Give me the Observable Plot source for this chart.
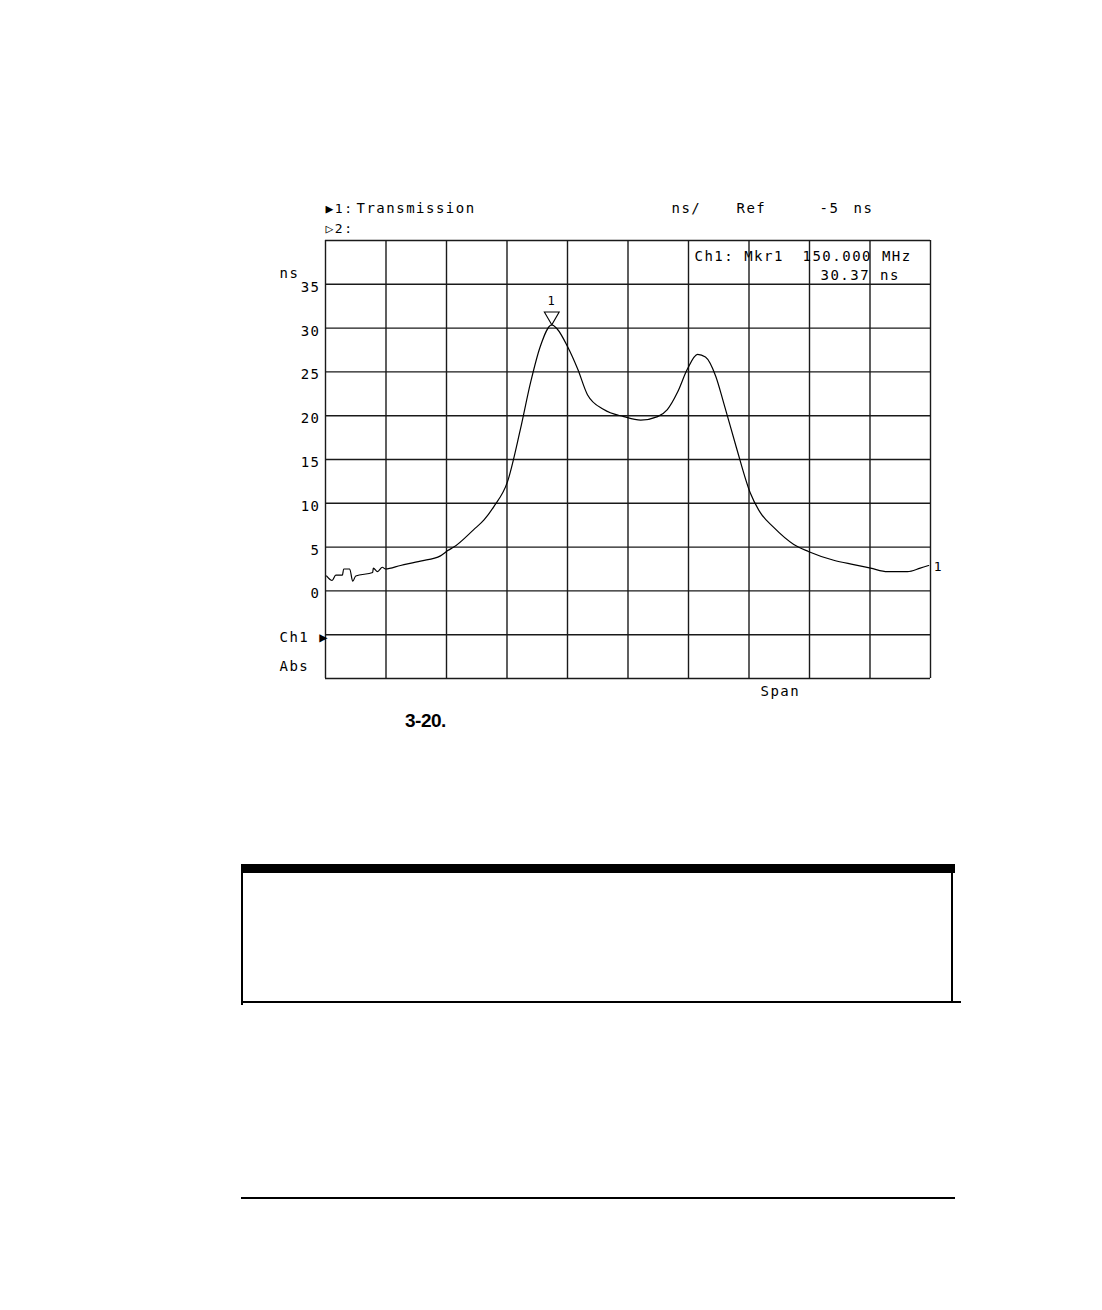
<!DOCTYPE html>
<html>
<head>
<meta charset="utf-8">
<script src="https://cdn.jsdelivr.net/npm/d3@7"></script>
<script src="https://cdn.jsdelivr.net/npm/@observablehq/plot@0.6"></script>
<style>
  html, body { margin: 0; padding: 0; background: #fff; }
  #page { position: relative; width: 1102px; height: 1310px; background: #fff; overflow: hidden; }
  #chart { position: absolute; left: 0; top: 0; }
  #caption { position: absolute; left: 405px; top: 710px; font-family: "Liberation Sans Narrow", "Liberation Sans", sans-serif; font-weight: bold; font-size: 19px; color: #000; letter-spacing: -0.5px; }
  .blk { position: absolute; background: #000; }
</style>
</head>
<body>
<div id="page">
  <div id="chart"></div>
  <div id="caption"></div>
  <div class="blk" style="left:241px; top:864px; width:714px; height:9px;"></div>
  <div class="blk" style="left:241px; top:864px; width:2px; height:141px;"></div>
  <div class="blk" style="left:951px; top:870px; width:2px; height:131px;"></div>
  <div class="blk" style="left:241px; top:1001px; width:720px; height:2px;"></div>
  <div class="blk" style="left:241px; top:1197px; width:714px; height:2px;"></div>
</div>
<script>
// ---- data (x in graticule divisions across the span, y in ns) ----
const traceX = [0.02, 0.11, 0.17, 0.28, 0.30, 0.40, 0.45, 0.50, 0.78, 0.79, 0.86, 0.94, 0.99, 1.24, 1.57, 1.90, 2.02, 2.12, 2.45, 2.62, 2.78, 3.01, 3.22, 3.39, 3.55, 3.74, 3.83, 4.00, 4.17, 4.33, 4.60, 4.93, 5.21, 5.49, 5.65, 5.82, 5.98, 6.15, 6.28, 6.45, 6.58, 6.79, 7.02, 7.19, 7.40, 7.74, 7.98, 8.40, 8.73, 9.01, 9.29, 9.62, 9.83, 9.97];
const traceY = [1.7, 1.2, 1.8, 1.8, 2.5, 2.5, 1.1, 1.7, 2.1, 2.6, 2.2, 2.7, 2.5, 2.9, 3.4, 4.0, 4.6, 5.0, 7.0, 8.1, 9.6, 12.5, 18.4, 23.8, 27.9, 30.37, 29.9, 27.9, 25.3, 22.4, 20.7, 19.9, 19.5, 19.9, 20.7, 22.7, 25.3, 27.0, 26.7, 24.5, 21.5, 16.4, 11.2, 8.9, 7.3, 5.3, 4.5, 3.5, 3.0, 2.6, 2.2, 2.2, 2.6, 2.9];
const gridX = [0, 1, 2, 3, 4, 5, 6, 7, 8, 9, 10];
const gridY = [-10, -5, 0, 5, 10, 15, 20, 25, 30, 35, 40];
const yTickLabels = [0, 5, 10, 15, 20, 25, 30, 35];
const markerX = 3.74;
const markerY = 30.37;
const markerLabel = "1";
const traceEndLabel = "1";
const unitLabel = "ns";
const header1a = "\u25B61:";
const header1b = "Transmission";
const header2 = "\u25B72:";
const scaleText = "ns/";
const refText = "Ref";
const refValue = "-5";
const refUnit = "ns";
const mkrText = "Ch1: Mkr1";
const mkrFreq = "150.000 MHz";
const mkrValue = "30.37 ns";
const chText = "Ch1 \u25B6";
const absText = "Abs";
const spanText = "Span";
const figureCaption = "3-20.";

const trace = traceX.map((x, i) => ({x, y: traceY[i]}));
const txt = (s, o) => Plot.text([s], {text: d => d, frameAnchor: "top-left", textAnchor: "start", lineAnchor: "middle", fill: "black", ...o});

const chart = Plot.plot({
  width: 1102,
  height: 720,
  marginLeft: 325,
  marginRight: 172,
  marginTop: 240,
  marginBottom: 42,
  x: {domain: [0, 10], axis: null},
  y: {domain: [-10, 40], axis: null},
  style: {fontFamily: "'DejaVu Sans Mono', monospace", fontSize: "14px", background: "white", color: "black", overflow: "visible", letterSpacing: "1.5px"},
  marks: [
    Plot.ruleX(gridX, {stroke: "#1a1a1a", strokeWidth: 1.4}),
    Plot.ruleY(gridY, {stroke: "#1a1a1a", strokeWidth: 1.4}),
    Plot.axisY(yTickLabels, {tickSize: 0, tickPadding: 5, fontSize: 14, dy: 3, label: null, fill: "black"}),
    Plot.line(trace, {x: "x", y: "y", stroke: "black", strokeWidth: 1.2, curve: "monotone-x"}),
    Plot.dot([{x: markerX, y: markerY}], {x: "x", y: "y", symbol: "triangle", rotate: 180, r: 5.5, dy: -8.6, fill: "white", stroke: "black", strokeWidth: 1.1}),
    Plot.text([{x: markerX, y: markerY, t: markerLabel}], {x: "x", y: "y", text: "t", dy: -24, fontSize: 12, fill: "black"}),
    Plot.text([{x: traceX[traceX.length - 1], y: traceY[traceY.length - 1], t: traceEndLabel}], {x: "x", y: "y", text: "t", dx: 5, dy: 1, textAnchor: "start", fontSize: 13, fill: "black"}),
    txt(unitLabel, {dx: -46, dy: 33}),
    txt(header1a, {dx: 0, dy: -32, fontSize: 13, style: "letter-spacing:-0.5px"}),
    txt(header1b, {dx: 31, dy: -32, style: "letter-spacing:2.1px"}),
    txt(header2, {dx: 0, dy: -12, fontSize: 13, style: "letter-spacing:-0.5px"}),
    txt(scaleText, {dx: 346, dy: -32}),
    txt(refText, {dx: 411, dy: -32}),
    txt(refValue, {dx: 494, dy: -32, style: "letter-spacing:1px"}),
    txt(refUnit, {dx: 528, dy: -32, style: "letter-spacing:2px"}),
    txt(mkrText, {dx: 369, dy: 16, style: "letter-spacing:1px"}),
    txt(mkrFreq, {dx: 477, dy: 16}),
    txt(mkrValue, {dx: 495, dy: 35}),
    txt(chText, {dx: -46, dy: 397}),
    txt(absText, {dx: -46, dy: 426}),
    txt(spanText, {dx: 435, dy: 451, style: "letter-spacing:2.8px"})
  ]
});
document.getElementById("chart").appendChild(chart);
document.getElementById("caption").textContent = figureCaption;
</script>
</body>
</html>
